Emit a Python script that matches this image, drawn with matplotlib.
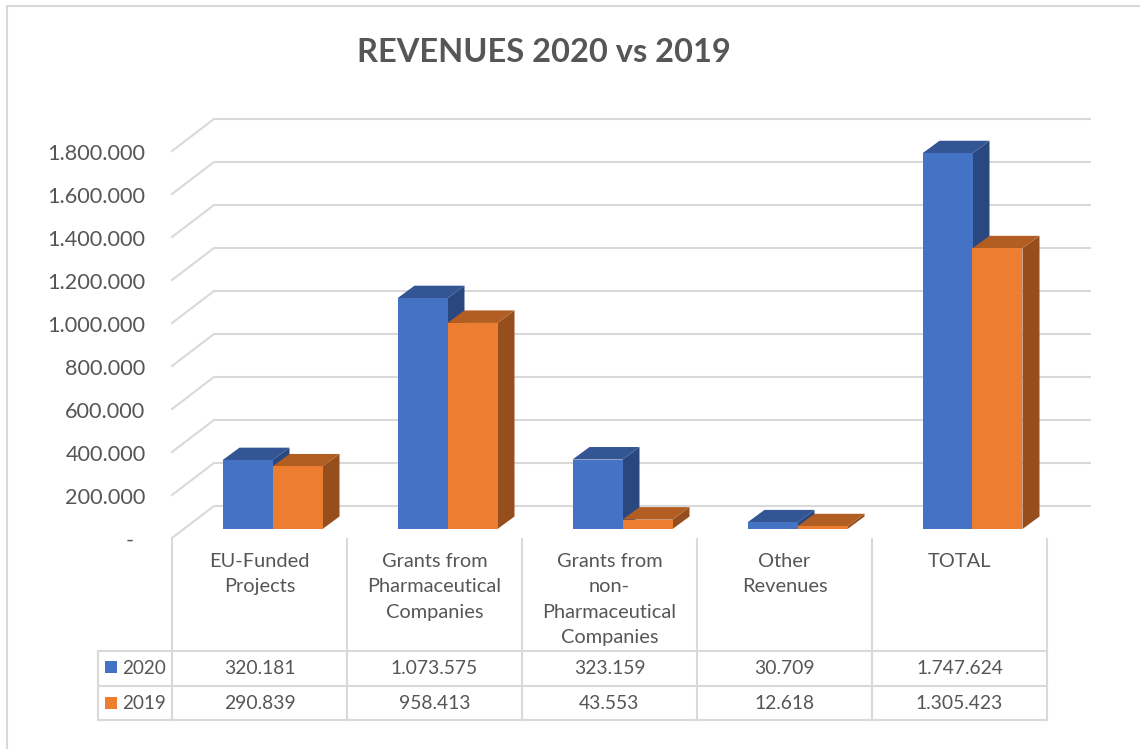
import matplotlib
matplotlib.use("Agg")
import matplotlib.pyplot as plt
from matplotlib.patches import Rectangle
from matplotlib.transforms import ScaledTranslation, blended_transform_factory

categories = [
    "EU-Funded\nProjects",
    "Grants from\nPharmaceutical\nCompanies",
    "Grants from\nnon-\nPharmaceutical\nCompanies",
    "Other\nRevenues",
    "TOTAL",
]
values_2020 = [320181, 1073575, 323159, 30709, 1747624]
values_2019 = [290839, 958413, 43553, 12618, 1305423]
labels_2020 = ["320.181", "1.073.575", "323.159", "30.709", "1.747.624"]
labels_2019 = ["290.839", "958.413", "43.553", "12.618", "1.305.423"]
y_ticks = [0, 200000, 400000, 600000, 800000, 1000000, 1200000, 1400000, 1600000, 1800000]
y_labels = ["-\u00a0\u00a0", "200.000", "400.000", "600.000", "800.000", "1.000.000",
            "1.200.000", "1.400.000", "1.600.000", "1.800.000"]

W, H = 1140, 749
LEFT, RIGHT, FLOOR, TOP = 172, 1047, 538, 151   # front plane, pixels
CAT_PX = (RIGHT - LEFT) / 5
VAL_PER_PX = 1800000 / (FLOOR - TOP)

TEXT = "#565656"
LINE = "#D9D9D9"
LW = 1.5
plt.rcParams["font.family"] = ["Lato", "DejaVu Sans"]


def dx(px):
    return px / CAT_PX


def dy(px):
    return px * VAL_PER_PX


fig = plt.figure(figsize=(W / 100, H / 100), dpi=100, facecolor="white")

# overlay in pixels for frame, table rules and table text
px = fig.add_axes([0, 0, 1, 1], zorder=0)
px.set_xlim(0, W)
px.set_ylim(H, 0)
px.axis("off")

ax = fig.add_axes([LEFT / W, (H - FLOOR) / H, (RIGHT - LEFT) / W, (FLOOR - TOP) / H], zorder=1)
ax.patch.set_alpha(0)
ax.set_xlim(0, 5)
ax.set_ylim(0, 1800000)
for s in ax.spines.values():
    s.set_visible(False)
ax.set_xticks([])
ax.set_yticks(y_ticks)
ax.set_yticklabels(y_labels, fontsize=15.6, color=TEXT)
ax.tick_params(axis="y", length=0, pad=19)
# tick labels sit a little below the gridline start in the original
label_shift = ScaledTranslation(0, -1 / 100, fig.dpi_scale_trans)
for lab in ax.get_yticklabels():
    lab.set_transform(lab.get_transform() + label_shift)

# chart frame
px.plot([7, 7, W], [H, 6, 6], color=LINE, lw=LW)

px.text(544, 52, "REVENUES 2020 vs 2019", ha="center", va="center",
        fontsize=23.5, fontweight="bold", color=TEXT)

# back wall gridlines with the slanted left part
for v in y_ticks:
    ax.plot([0, dx(42), 5 + dx(43)], [v, v + dy(32), v + dy(32)],
            color=LINE, lw=LW, clip_on=False, zorder=1)

# 3d bars, drawn left to right so that nearer faces overlap
BAR_START = dx(50.5)
BAR_W = dx(50)
BASE = dy(9)
D_X = dx(17)
D_Y = dy(12.5)
styles = [
    (values_2020, "#4472C4", "#335593", "#2A4880"),
    (values_2019, "#ED7D31", "#B25E22", "#964F1C"),
]
for i in range(len(categories)):
    for j, (vals, front, top, side) in enumerate(styles):
        x0 = i + BAR_START + j * BAR_W
        x1 = x0 + BAR_W
        y0 = BASE
        y1 = BASE + vals[i]
        z = 2 + i + j * 0.1
        ax.fill([x1, x1 + D_X, x1 + D_X, x1], [y0, y0 + D_Y, y1 + D_Y, y1],
                color=side, lw=0, clip_on=False, zorder=z)
        ax.fill([x0, x0 + D_X, x1 + D_X, x1], [y1, y1 + D_Y, y1 + D_Y, y1],
                color=top, lw=0, clip_on=False, zorder=z)
        ax.bar(x0, vals[i], BAR_W, bottom=BASE, align="edge", color=front, lw=0,
               clip_on=False, zorder=z + 0.01)

# data table: rules
ROW_TOP, ROW_MID, ROW_BOT = 651, 686, 720
TABLE_LEFT = 98
for i in range(6):
    x = LEFT + i * CAT_PX
    px.plot([x, x], [539, ROW_BOT], color=LINE, lw=LW)
px.plot([TABLE_LEFT, TABLE_LEFT], [ROW_TOP, ROW_BOT], color=LINE, lw=LW)
for y in (ROW_TOP, ROW_MID, ROW_BOT):
    px.plot([TABLE_LEFT, RIGHT], [y, y], color=LINE, lw=LW)

# data table: text
tr = blended_transform_factory(ax.transData, px.transData)
for i, cat in enumerate(categories):
    ax.text(i + 0.5, 553, cat, transform=tr, ha="center", va="top", fontsize=14.4,
            color=TEXT, linespacing=1.6, clip_on=False)
    ax.text(i + 0.5, 669, labels_2020[i], transform=tr, ha="center", va="center",
            fontsize=13.9, color=TEXT, clip_on=False)
    ax.text(i + 0.5, 703.5, labels_2019[i], transform=tr, ha="center", va="center",
            fontsize=13.9, color=TEXT, clip_on=False)

# legend keys inside the table
for yc, text_y, name, col in ((667, 668.5, "2020", "#4472C4"), (703, 703.5, "2019", "#ED7D31")):
    px.add_patch(Rectangle((105, yc - 6), 12, 12, color=col, lw=0))
    px.text(122, text_y, name, ha="left", va="center", fontsize=13.6, color=TEXT)

fig.savefig("out.png", dpi=100)
